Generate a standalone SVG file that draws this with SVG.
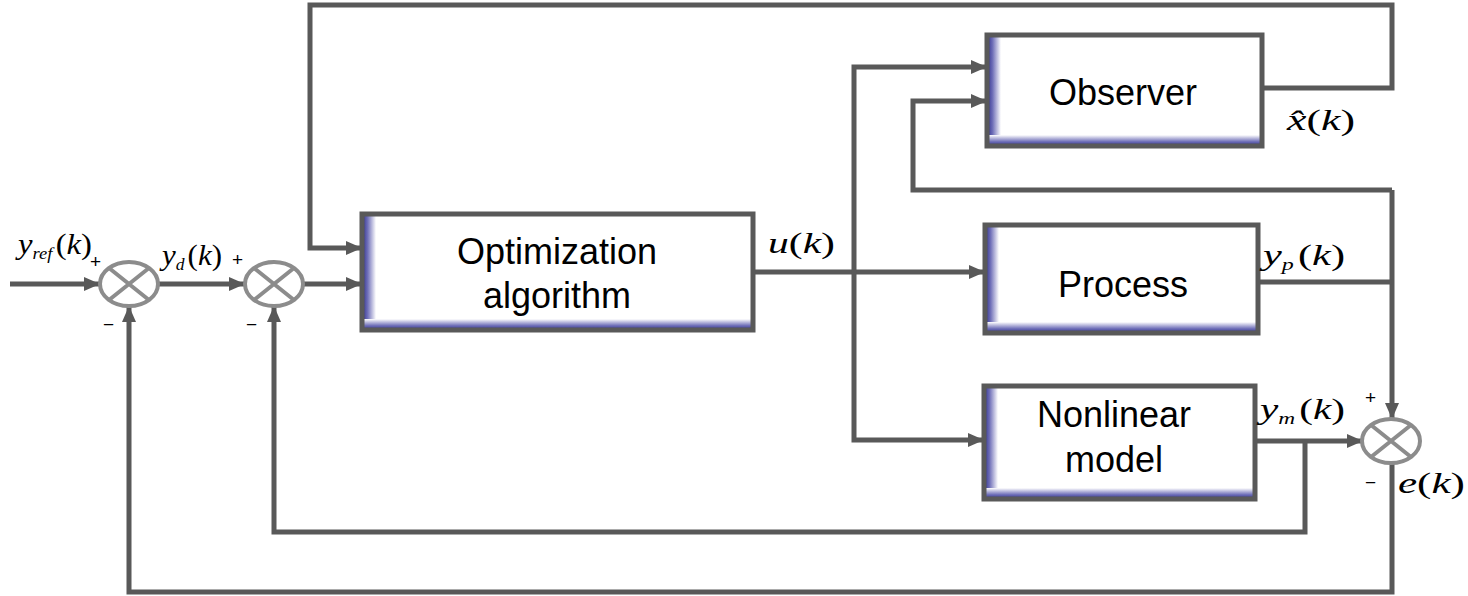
<svg xmlns="http://www.w3.org/2000/svg" width="1468" height="596" viewBox="0 0 1468 596">
<style>
.ln{fill:none;stroke:#595959;stroke-width:5}
.arr{marker-end:url(#ah)}
.sum{fill:#fff;stroke:#8c8c8c;stroke-width:4}
.x{stroke:#8c8c8c;stroke-width:4}
.bx{fill:none;stroke:#595959;stroke-width:5}
.bt{font-family:"Liberation Sans",Arial,sans-serif;font-size:36px;fill:#000;text-anchor:middle}
.m{font-family:"Liberation Serif","Times New Roman",serif;font-style:italic;font-size:30px;fill:#000}
.s{font-size:17px}
.p{font-style:normal}
.sg{font-family:"Liberation Sans",Arial,sans-serif;font-size:19px;fill:#000}
</style>
<defs>
<marker id="ah" markerUnits="userSpaceOnUse" markerWidth="16" markerHeight="14" refX="15" refY="7" orient="auto">
<path d="M0,0 L16,7 L0,14 z" fill="#595959"/>
</marker>
<linearGradient id="gl" x1="0" y1="0" x2="1" y2="0">
<stop offset="0" stop-color="#2b2b8c"/><stop offset="0.4" stop-color="#6f6fb8"/><stop offset="1" stop-color="#fff"/>
</linearGradient>
<linearGradient id="gb" x1="0" y1="1" x2="0" y2="0">
<stop offset="0" stop-color="#2b2b8c"/><stop offset="0.4" stop-color="#6f6fb8"/><stop offset="1" stop-color="#fff"/>
</linearGradient>
</defs>

<g id="connectors">
<path class="ln arr" d="M10 284 H99"/>
<path class="ln arr" d="M159 284 H244"/>
<path class="ln arr" d="M304 284 H361"/>
<path class="ln arr" d="M1262 88 H1392 V5 H310 V248 H361"/>
<path class="ln arr" d="M753 272 H984"/>
<path class="ln arr" d="M854 272 V67 H986"/>
<path class="ln arr" d="M854 272 V440 H983"/>
<path class="ln arr" d="M1392 190 H913 V101 H986"/>
<path class="ln arr" d="M1392 190 V418"/>
<path class="ln" d="M1258 282 H1392"/>
<path class="ln arr" d="M1255 441 H1362"/>
<path class="ln arr" d="M1305 441 V532 H274 V307"/>
<path class="ln arr" d="M1392 463 V592 H129 V307"/>
</g>

<g id="sum1">
<ellipse class="sum" cx="129" cy="284" rx="29" ry="22"/>
<path class="x" d="M109 268 L149 300 M149 268 L109 300"/>
</g>
<g id="sum2">
<ellipse class="sum" cx="274" cy="284" rx="29" ry="22"/>
<path class="x" d="M254 268 L294 300 M294 268 L254 300"/>
</g>
<g id="sum3">
<ellipse class="sum" cx="1391" cy="441" rx="29" ry="22"/>
<path class="x" d="M1371 425 L1411 457 M1411 425 L1371 457"/>
</g>

<g id="optimization">
<rect x="362" y="214" width="391" height="116" fill="#fff"/>
<rect x="362" y="214" width="14" height="116" fill="url(#gl)"/>
<rect x="362" y="319" width="391" height="11" fill="url(#gb)"/>
<rect class="bx" x="362" y="214" width="391" height="116"/>
<text class="bt" x="557" y="264">Optimization</text>
<text class="bt" x="557" y="308">algorithm</text>
</g>
<g id="observer">
<rect x="987" y="35" width="275" height="111" fill="#fff"/>
<rect x="987" y="35" width="14" height="111" fill="url(#gl)"/>
<rect x="987" y="135" width="275" height="11" fill="url(#gb)"/>
<rect class="bx" x="987" y="35" width="275" height="111"/>
<text class="bt" x="1123" y="105">Observer</text>
</g>
<g id="process">
<rect x="985" y="225" width="273" height="108" fill="#fff"/>
<rect x="985" y="225" width="14" height="108" fill="url(#gl)"/>
<rect x="985" y="322" width="273" height="11" fill="url(#gb)"/>
<rect class="bx" x="985" y="225" width="273" height="108"/>
<text class="bt" x="1123" y="297">Process</text>
</g>
<g id="nonlinear">
<rect x="984" y="386" width="271" height="113" fill="#fff"/>
<rect x="984" y="386" width="14" height="113" fill="url(#gl)"/>
<rect x="984" y="488" width="271" height="11" fill="url(#gb)"/>
<rect class="bx" x="984" y="386" width="271" height="113"/>
<text class="bt" x="1114" y="427">Nonlinear</text>
<text class="bt" x="1114" y="472">model</text>
</g>

<g id="labels">
<text class="m" x="18" y="254" textLength="74" lengthAdjust="spacingAndGlyphs">y<tspan class="s" dy="5">ref</tspan><tspan class="p" dy="-5" dx="3">(</tspan>k<tspan class="p">)</tspan></text>
<text class="sg" x="90" y="268">+</text>
<text class="sg" x="103" y="331">−</text>
<text class="m" x="162" y="265" textLength="60" lengthAdjust="spacingAndGlyphs">y<tspan class="s" dy="5">d</tspan><tspan class="p" dy="-5" dx="3">(</tspan>k<tspan class="p">)</tspan></text>
<text class="sg" x="232" y="266">+</text>
<text class="sg" x="246" y="331">−</text>
<text class="m" x="768" y="253" textLength="67" lengthAdjust="spacingAndGlyphs">u<tspan class="p">(</tspan>k<tspan class="p">)</tspan></text>
<text class="m" x="1287" y="130" textLength="68" lengthAdjust="spacingAndGlyphs">x̂<tspan class="p">(</tspan>k<tspan class="p">)</tspan></text>
<text class="m" x="1263" y="265" textLength="82" lengthAdjust="spacingAndGlyphs">y<tspan class="s" dy="5">p</tspan><tspan class="p" dy="-5" dx="3">(</tspan>k<tspan class="p">)</tspan></text>
<text class="m" x="1260" y="419" textLength="85" lengthAdjust="spacingAndGlyphs">y<tspan class="s" dy="5">m</tspan><tspan class="p" dy="-5" dx="3">(</tspan>k<tspan class="p">)</tspan></text>
<text class="sg" x="1365" y="404">+</text>
<text class="sg" x="1365" y="489">−</text>
<text class="m" x="1398" y="493" textLength="67" lengthAdjust="spacingAndGlyphs">e<tspan class="p">(</tspan>k<tspan class="p">)</tspan></text>
</g>
</svg>
